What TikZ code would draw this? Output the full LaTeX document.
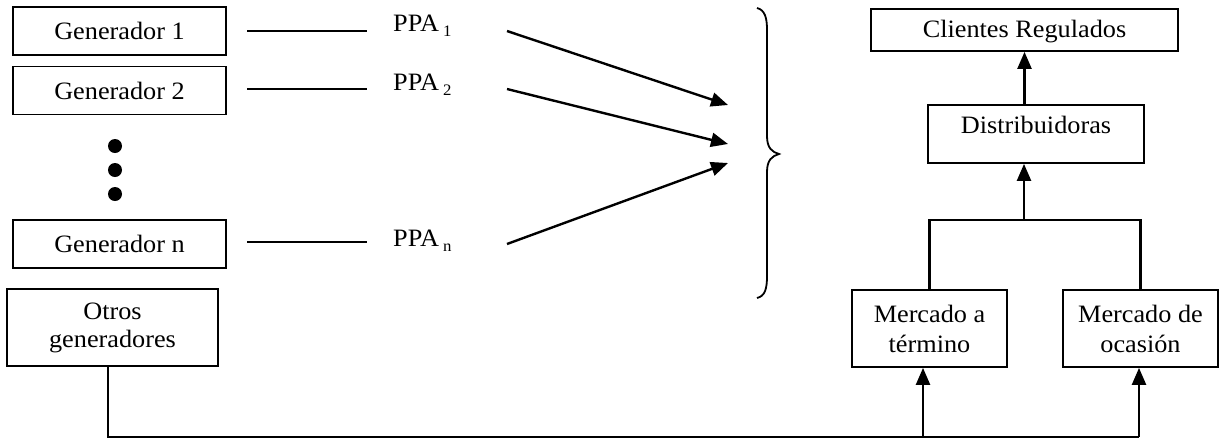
\documentclass[tikz,border=0pt]{standalone}
\usepackage{fontspec}
\setmainfont{Liberation Serif}[FakeStretch=1.05]
\usetikzlibrary{arrows.meta}
\tikzset{
  box/.style={draw, line width=1.8pt, inner sep=0pt, font=\fontsize{25}{29}\selectfont, align=center},
  gen/.style={box, minimum width=213pt, minimum height=48pt},
  mkt/.style={box, minimum width=155pt, minimum height=77pt, font=\fontsize{25}{30}\selectfont},
  plain/.style={line width=1.8pt},
  arr/.style={line width=2.4pt, -{Triangle[length=17pt,width=14pt]}},
  thick2/.style={line width=2.4pt},
  ppa/.style={inner sep=0pt, anchor=base west, font=\fontsize{25}{29}\selectfont},
}
\newcommand{\subsc}[1]{\,\raisebox{-5pt}{\fontsize{16}{16}\selectfont #1}}
\begin{document}
\begin{tikzpicture}[x=1pt,y=-1pt]
\useasboundingbox (0,0) rectangle (1220,440);
% generators
\node[gen] (g1) at (119.5,31) {Generador 1};
\node[gen] (g2) at (119.5,90.5) {Generador 2};
\node[gen] (gn) at (119.5,244) {Generador n};
\node[box, minimum width=211pt, minimum height=77pt, font=\fontsize{25}{28}\selectfont] (og) at (112.5,327.5) {Otros\\generadores};
% dots
\fill (115,146) circle[radius=7pt];
\fill (115,170) circle[radius=7pt];
\fill (115,194) circle[radius=7pt];
% lines and PPA labels
\coordinate (l1a) at (247,31); \coordinate (l1b) at (367,31);
\coordinate (l2a) at (247,89); \coordinate (l2b) at (367,89);
\coordinate (lna) at (247,242); \coordinate (lnb) at (367,242);
\draw[plain] (l1a) -- (l1b);
\draw[plain] (l2a) -- (l2b);
\draw[plain] (lna) -- (lnb);
\node[ppa] (p1) at (393,31) {PPA\subsc{1}};
\node[ppa] (p2) at (393,90) {PPA\subsc{2}};
\node[ppa] (pn) at (393,246) {PPA\subsc{n}};
% arrows to brace
\coordinate (a1s) at (507,31); \coordinate (a1e) at (728,105);
\coordinate (a2s) at (507,89); \coordinate (a2e) at (728,144);
\coordinate (a3s) at (507,244); \coordinate (a3e) at (728,163);
\draw[arr] (a1s) -- (a1e);
\draw[arr] (a2s) -- (a2e);
\draw[arr] (a3s) -- (a3e);
% brace
\draw[line width=1.8pt] (757,8) .. controls (765,10) and (767,18) .. (767,30)
  -- (767,136) .. controls (767,148) and (772,152) .. (779,154)
  .. controls (772,156) and (767,160) .. (767,172)
  -- (767,276) .. controls (767,289) and (765,296) .. (757,298);
% right side
\node[box, minimum width=307pt, minimum height=42pt, text height=17pt, text depth=2pt] (cr) at (1024.5,30) {Clientes Regulados};
\node[box, minimum width=216pt, minimum height=58pt, text height=17pt, text depth=19pt] (di) at (1036,134) {Distribuidoras};
\node[mkt] (mt) at (929.5,328.5) {Mercado a\\término};
\node[mkt] (mo) at (1140.5,328.5) {Mercado de\\ocasión};
\draw[arr] (cr.south |- di.north) -- (cr.south);
\coordinate (j) at (1024,220);
\draw[thick2] (mt.north) |- (j) -| (mo.north);
\draw[arr] (j) -- (j |- di.south);
% bottom
\coordinate (bl) at (108,437);
\coordinate (bt) at (923,437);
\coordinate (bo) at (1139,437);
\draw[thick2] (og.south -| bl) -- (bl) -- (bo);
\draw[arr] (bt) -- (bt |- mt.south);
\draw[arr] (bo) -- (bo |- mo.south);
\end{tikzpicture}
\end{document}
